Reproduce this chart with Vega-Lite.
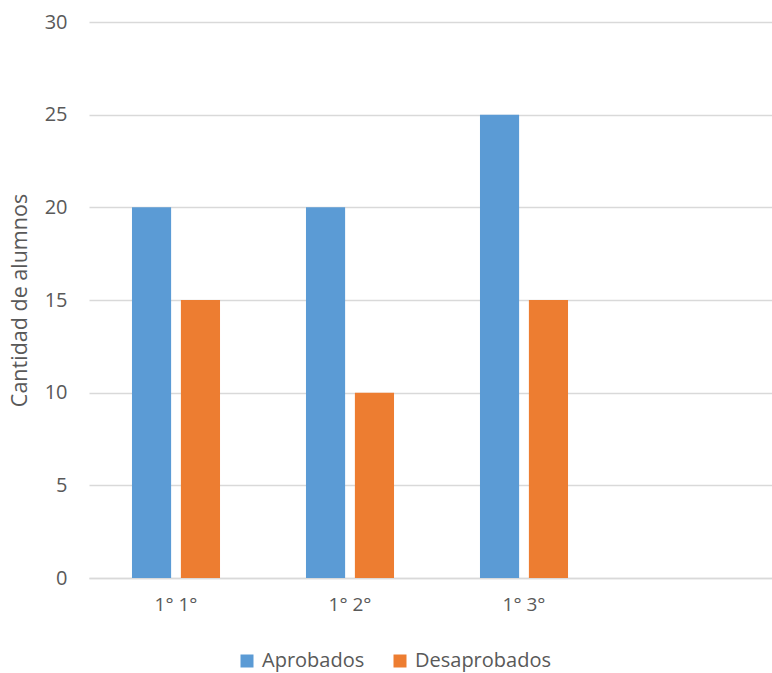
{
  "$schema": "https://vega.github.io/schema/vega-lite/v6.json",
  "autosize": {"type": "none"},
  "padding": {"left": 89, "top": 22, "right": 0, "bottom": 95},
  "width": 683,
  "height": 556,
  "background": "white",
  "config": {
    "font": "Open Sans",
    "view": {"stroke": null},
    "axis": {"labelColor": "#595959", "titleColor": "#595959", "labelFont": "Open Sans", "titleFont": "Open Sans"}
  },
  "data": {
    "values": [
      {"curso": "1° 1°", "estado": "Aprobados", "alumnos": 20},
      {"curso": "1° 1°", "estado": "Desaprobados", "alumnos": 15},
      {"curso": "1° 2°", "estado": "Aprobados", "alumnos": 20},
      {"curso": "1° 2°", "estado": "Desaprobados", "alumnos": 10},
      {"curso": "1° 3°", "estado": "Aprobados", "alumnos": 25},
      {"curso": "1° 3°", "estado": "Desaprobados", "alumnos": 15}
    ]
  },
  "mark": {"type": "bar"},
  "encoding": {
    "x": {
      "field": "curso",
      "type": "nominal",
      "scale": {"domain": ["1° 1°", "1° 2°", "1° 3°", " "], "range": [0, 696], "paddingInner": 0.494, "paddingOuter": 0.247},
      "axis": {
        "title": null,
        "labelAngle": 0,
        "ticks": false,
        "labelFontSize": 19,
        "labelPadding": 17,
        "domainColor": "#d9d9d9",
        "domainWidth": 1.5,
        "grid": false
      }
    },
    "xOffset": {
      "field": "estado",
      "type": "nominal",
      "scale": {"paddingInner": 0.2, "paddingOuter": 0}
    },
    "y": {
      "field": "alumnos",
      "type": "quantitative",
      "scale": {"domain": [0, 30], "nice": false},
      "axis": {
        "title": "Cantidad de alumnos",
        "titleFontSize": 21.5,
        "titleFontWeight": "normal",
        "titlePadding": 13,
        "values": [0, 5, 10, 15, 20, 25, 30],
        "labelFontSize": 20,
        "labelPadding": 22,
        "ticks": false,
        "domain": false,
        "gridColor": "#d9d9d9",
        "gridWidth": 1.3
      }
    },
    "color": {
      "field": "estado",
      "type": "nominal",
      "scale": {"domain": ["Aprobados", "Desaprobados"], "range": ["#5b9bd5", "#ed7d31"]},
      "legend": {
        "title": null,
        "orient": "none",
        "direction": "horizontal",
        "legendX": 148,
        "legendY": 629,
        "symbolType": "square",
        "symbolSize": 169,
        "symbolStrokeWidth": 0,
        "symbolOpacity": 1,
        "labelFont": "Open Sans",
        "labelFontSize": 20,
        "labelColor": "#595959",
        "labelOffset": 5,
        "columnPadding": 25,
        "padding": 0
      }
    }
  }
}
